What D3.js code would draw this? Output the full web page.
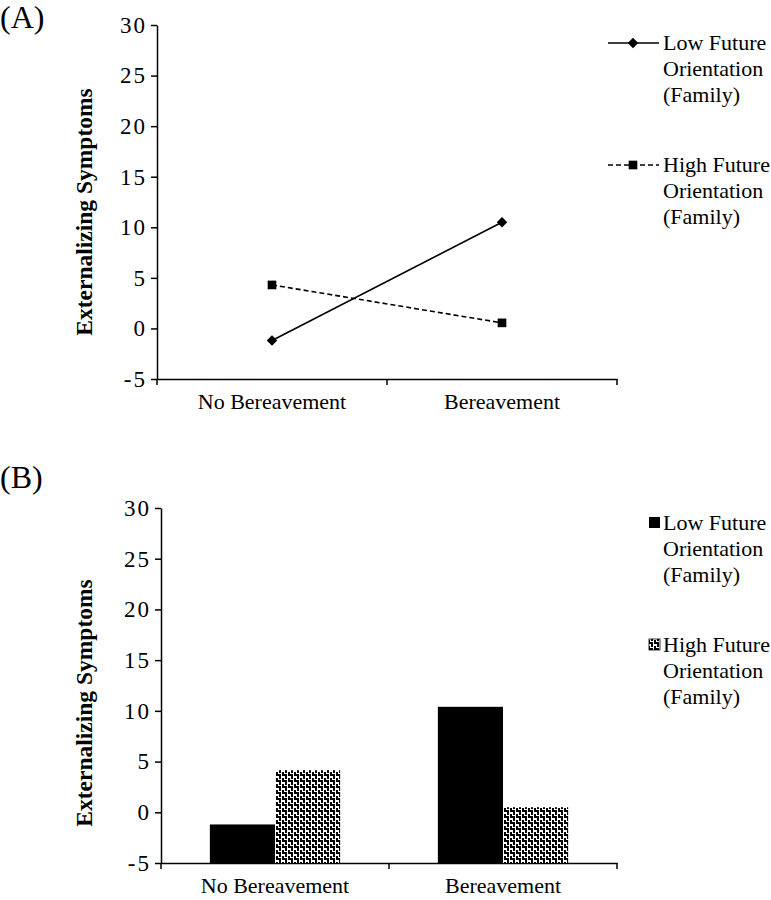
<!DOCTYPE html>
<html>
<head>
<meta charset="utf-8">
<script src="https://cdn.jsdelivr.net/npm/d3@7"></script>
<style>
  body { margin: 0; background: #fff; }
  svg text { font-family: "Liberation Serif", "Times New Roman", serif; fill: #000; }
</style>
</head>
<body>
<script>
// Chart data.
const categories = ["No Bereavement", "Bereavement"];
const seriesNames = ["Low Future\nOrientation\n(Family)", "High Future\nOrientation\n(Family)"];
const lowFuture = [-1.2, 10.5];
const highFuture = [4.3, 0.55];
const lowFutureBars = [-1.2, 10.4];
const highFutureBars = [4.15, 0.5];
const yTicks = [-5, 0, 5, 10, 15, 20, 25, 30];
const yTitle = "Externalizing Symptoms";

const width = 771, height = 900;
const svg = d3.select("body").append("svg").attr("width", width).attr("height", height);

// zig-zag hatch used by the "High" bars
const defs = svg.append("defs");
const pat = defs.append("pattern").attr("id", "zig").attr("patternUnits", "userSpaceOnUse")
  .attr("width", 6).attr("height", 6);
pat.append("rect").attr("width", 6).attr("height", 6).attr("fill", "#fff");
pat.append("path").attr("d", "M0,0h5v2h-5z M3,2h2v3h-2z M0,4h2v2h-2z").attr("fill", "#000");

//Draws one panel: axes, title, and either lines or bars.
function drawPanel(opt) {
  const x = d3.scaleBand().domain(categories).range([opt.left, opt.right]);
  const y = d3.scaleLinear().domain([-5, 30]).range([opt.bottom, opt.top]);
  const g = svg.append("g");

  // y axis
  const yAxis = d3.axisLeft(y).tickValues(yTicks).tickFormat(d => String(d))
    .tickSizeInner(6).tickSizeOuter(0).tickPadding(6);
  const ya = g.append("g").attr("transform", "translate(" + opt.left + ",0)").call(yAxis);
  ya.selectAll("text").style("font-size", "23px").style("letter-spacing", "2px").attr("dx", "2");
  ya.selectAll("line, path").attr("stroke", "#000").attr("stroke-width", 1.5);

  // x axis (ticks sit on the category boundaries)
  const xAxis = d3.axisBottom(x).tickSize(0).tickPadding(30);
  const xa = g.append("g").attr("transform", "translate(0," + opt.bottom + ")").call(xAxis);
  xa.selectAll("text").style("font-size", "22px").attr("dy", "0");
  xa.select("path").attr("stroke", "#000").attr("stroke-width", 1.5);
  const edges = [x.range()[0]].concat(categories.map(c => x(c) + x.bandwidth()));
  xa.selectAll(".edge").data(edges).enter().append("line")
    .attr("x1", d => d).attr("x2", d => d).attr("y1", 0).attr("y2", 6)
    .attr("stroke", "#000").attr("stroke-width", 1.5);

  // panel letter
  g.append("text").attr("x", 0).attr("y", opt.top + opt.letterDy).style("font-size", "32px").text(opt.letter);

  // y title
  g.append("text").attr("transform", "translate(92," + opt.titleY + ") rotate(-90)")
    .attr("text-anchor", "middle").style("font-size", "23.5px").style("font-weight", "bold").text(yTitle);

  return {g, x, y};
}

//Legend text, three lines each.
function legendText(g, tx, ty, name) {
  const t = g.append("text").attr("x", tx).attr("y", ty).style("font-size", "22px");
  name.split("\n").forEach((s, i) => {
    t.append("tspan").attr("x", tx).attr("dy", i === 0 ? 0 : 26).text(s);
  });
}

// ---------- Panel A: lines ----------
const A = drawPanel({left: 157, right: 617, top: 25, bottom: 379, letter: "(A)", letterDy: 3, titleY: 212});
const lineGen = d3.line().x((d, i) => A.x(categories[i]) + A.x.bandwidth() / 2).y(d => A.y(d));
const lineSeries = [
  {vals: lowFuture, dash: null, shape: d3.symbolDiamond2, size: 70},
  {vals: highFuture, dash: "5,3", shape: d3.symbolSquare, size: 75}
];
lineSeries.forEach(s => {
  A.g.append("path").datum(s.vals).attr("d", lineGen).attr("fill", "none")
    .attr("stroke", "#000").attr("stroke-width", 1.6).attr("stroke-dasharray", s.dash);
  A.g.selectAll(null).data(s.vals).enter().append("path")
    .attr("d", d3.symbol().type(s.shape).size(s.size))
    .attr("transform", (d, i) => "translate(" + (A.x(categories[i]) + A.x.bandwidth() / 2) + "," + A.y(d) + ")")
    .attr("fill", "#000");
});
// legend A
[43, 165].forEach((ly, k) => {
  const s = lineSeries[k];
  A.g.append("line").attr("x1", 608).attr("x2", 659).attr("y1", ly).attr("y2", ly)
    .attr("stroke", "#000").attr("stroke-width", 1.6).attr("stroke-dasharray", s.dash);
  A.g.append("path").attr("d", d3.symbol().type(s.shape).size(s.size))
    .attr("transform", "translate(633," + ly + ")").attr("fill", "#000");
  legendText(A.g, 663, ly + 7, seriesNames[k]);
});

// ---------- Panel B: bars ----------
const B = drawPanel({left: 161, right: 617, top: 508, bottom: 863, letter: "(B)", letterDy: -20, titleY: 703});
const inner = d3.scaleBand().domain([0, 1]).range([0, B.x.bandwidth()]).paddingOuter(0.75).paddingInner(0);
const barSeries = [
  {vals: lowFutureBars, fill: "#000"},
  {vals: highFutureBars, fill: "url(#zig)"}
];
barSeries.forEach((s, k) => {
  B.g.selectAll(null).data(s.vals).enter().append("rect")
    .attr("x", (d, i) => B.x(categories[i]) + inner(k))
    .attr("width", inner.bandwidth())
    .attr("y", d => B.y(d))
    .attr("height", d => B.y(-5) - B.y(d))
    .attr("fill", s.fill);
});
// legend B
[523, 645].forEach((ly, k) => {
  B.g.append("rect").attr("x", 649).attr("y", ly - 6).attr("width", 11).attr("height", 11)
    .attr("fill", barSeries[k].fill).attr("stroke", k ? "#000" : "none").attr("stroke-width", 0.8);
  legendText(B.g, 663, ly + 7, seriesNames[k]);
});
</script>
</body>
</html>
